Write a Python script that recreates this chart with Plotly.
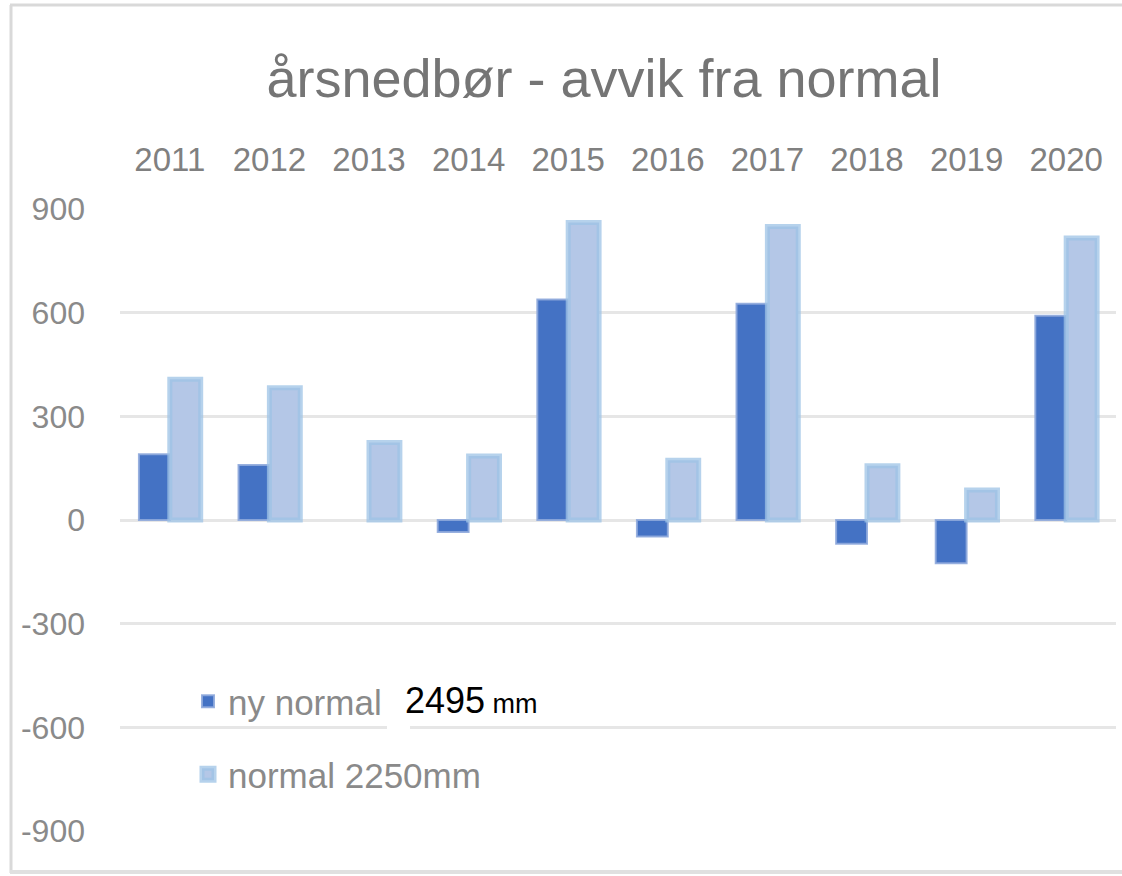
import plotly.graph_objects as go

# ---- data ----
years = ["2011", "2012", "2013", "2014", "2015", "2016", "2017", "2018", "2019", "2020"]
ny_normal = [190, 159, None, -35, 638, -48, 626, -69, -125, 591]
normal = [407, 383, 224, 185, 861, 173, 849, 157, 87, 816]
y_ticks = [-900, -600, -300, 0, 300, 600, 900]
y_tick_labels = ["-900", "-600", "-300", "0", "300", "600", "900"]
series_names = ["ny normal", "normal 2250mm"]
title_text = "årsnedbør - avvik fra normal"
overlay_text = "2495<span style='font-size:27px'> mm</span>"

FONT = "Liberation Sans, Arial, sans-serif"
W, H = 1122, 876
ML, MR, MT, MB = 120, 6, 209, 45
PW, PH = W - ML - MR, H - MT - MB


def px(x):
    return (x - ML) / PW


def py(y):
    return (H - MB - y) / PH


fig = go.Figure()
fig.add_trace(go.Bar(
    x=years, y=ny_normal, name=series_names[0],
    marker=dict(color="#4472C4", line=dict(color="rgba(142,169,219,0.9)", width=2)),
    legend="legend", showlegend=True,
))
fig.add_trace(go.Bar(
    x=years, y=normal, name=series_names[1],
    marker=dict(color="#B4C7E7", line=dict(color="rgba(157,195,230,0.75)", width=5)),
    legend="legend2", showlegend=True,
))

shapes = [
    # chart frame (left, top, bottom)
    dict(type="line", xref="paper", yref="paper", x0=px(11), x1=px(11), y0=py(873), y1=py(5),
         line=dict(color="#d9d9d9", width=3)),
    dict(type="line", xref="paper", yref="paper", x0=px(10), x1=px(1122), y0=py(5), y1=py(5),
         line=dict(color="#d9d9d9", width=3)),
    dict(type="line", xref="paper", yref="paper", x0=px(10), x1=px(1122), y0=py(872), y1=py(872),
         line=dict(color="#e0e0e0", width=4)),
    # small white patch from the pasted label
    dict(type="rect", xref="paper", yref="paper", x0=px(387), x1=px(410), y0=py(732), y1=py(722),
         fillcolor="white", line=dict(width=0), layer="above"),
]

fig.update_layout(
    width=W, height=H,
    margin=dict(l=ML, r=MR, t=MT, b=MB),
    paper_bgcolor="white", plot_bgcolor="white",
    showlegend=True,
    barmode="group", bargap=0.38, bargroupgap=0.0,
    title=dict(text=title_text, x=604 / W, xanchor="center", y=1 - 78 / H, yanchor="middle",
               font=dict(family=FONT, size=54, color="#757575")),
    font=dict(family=FONT, color="#808080"),
    xaxis=dict(side="top", type="category", showgrid=False, showline=False, zeroline=False,
               ticks="", tickfont=dict(family=FONT, size=33, color="#808080"),
               ticklabelstandoff=30),
    yaxis=dict(range=[-900, 900], tickvals=y_ticks, ticktext=y_tick_labels,
               showgrid=True, gridcolor="#e6e6e6", gridwidth=3,
               zeroline=True, zerolinecolor="#e6e6e6", zerolinewidth=3,
               showline=False, ticks="", tickfont=dict(family=FONT, size=32, color="#8a8a8a"),
               ticklabelstandoff=34),
    legend=dict(x=px(188), y=py(672), xanchor="left", yanchor="top", bgcolor="rgba(0,0,0,0)",
                font=dict(family=FONT, size=35, color="#8a8a8a")),
    legend2=dict(x=px(188), y=py(745), xanchor="left", yanchor="top", bgcolor="rgba(0,0,0,0)",
                 font=dict(family=FONT, size=35, color="#8a8a8a")),
    shapes=shapes,
    annotations=[
        dict(text=overlay_text, xref="paper", yref="paper", x=px(403), y=py(700),
             xanchor="left", yanchor="middle", showarrow=False,
             font=dict(family=FONT, size=36, color="black")),
    ],
)

fig.write_html("out.html", config={"displayModeBar": False},
               post_script="document.body.style.margin='0';")
